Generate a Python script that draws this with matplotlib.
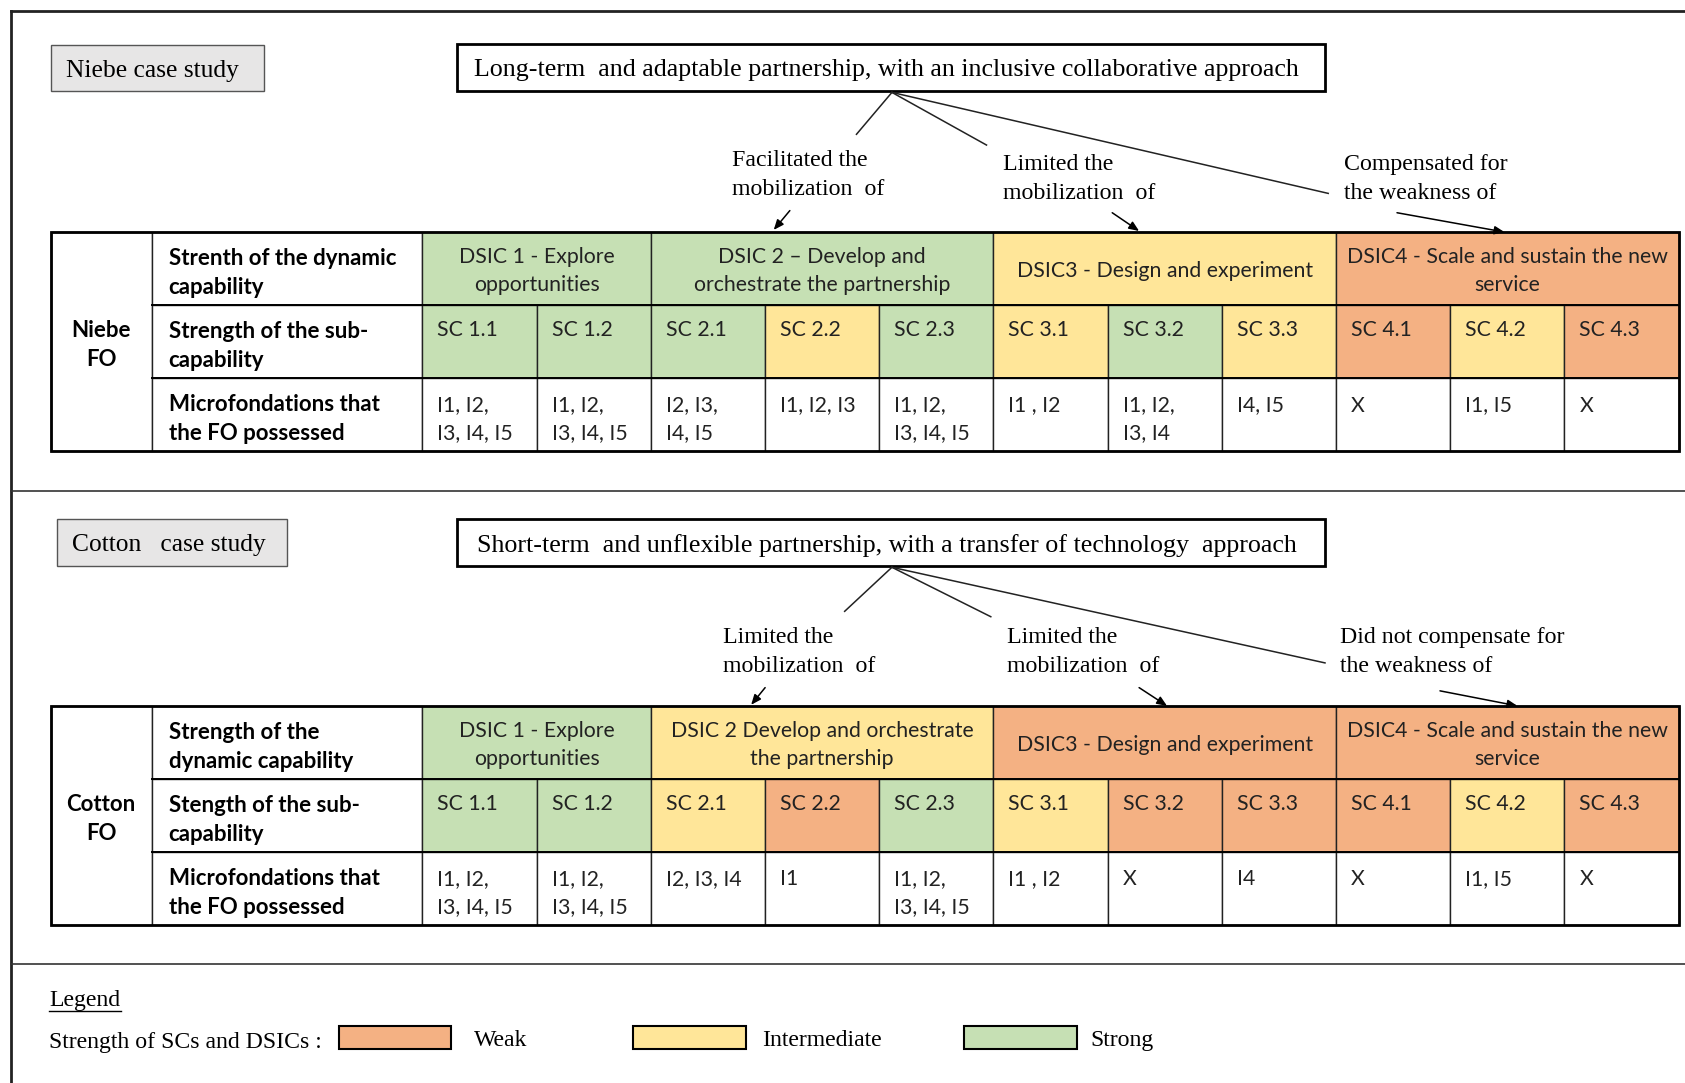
import matplotlib.pyplot as plt
from matplotlib.patches import Rectangle

# -------------------------
# data
level_color = {'weak': '#f4b183', 'inter': '#ffe699', 'strong': '#c6e0b4'}

sc_names = ['SC 1.1', 'SC 1.2', 'SC 2.1', 'SC 2.2', 'SC 2.3', 'SC 3.1',
            'SC 3.2', 'SC 3.3', 'SC 4.1', 'SC 4.2', 'SC 4.3']
dsic_span = [2, 3, 3, 3]

niebe_case = 'Niebe case study'
niebe_title = 'Long-term  and adaptable partnership, with an inclusive collaborative approach'
niebe_fo = 'Niebe\nFO'
niebe_rows = ['Strenth of the dynamic\ncapability',
              'Strength of the sub-\ncapability',
              'Microfondations that\nthe FO possessed']
niebe_dsic = ['DSIC 1 - Explore\nopportunities',
              'DSIC 2 \u2013 Develop and\norchestrate the partnership',
              'DSIC3 - Design and experiment',
              'DSIC4 - Scale and sustain the new\nservice']
niebe_dsic_level = ['strong', 'strong', 'inter', 'weak']
niebe_sc_level = ['strong', 'strong', 'strong', 'inter', 'strong', 'inter',
                  'strong', 'inter', 'weak', 'inter', 'weak']
niebe_micro = ['I1, I2,\nI3, I4, I5', 'I1, I2,\nI3, I4, I5', 'I2, I3,\nI4, I5',
               'I1, I2, I3', 'I1, I2,\nI3, I4, I5', 'I1 , I2', 'I1, I2,\nI3, I4',
               'I4, I5', 'X', 'I1, I5', 'X']
niebe_effects = ['Facilitated the\nmobilization  of',
                 'Limited the\nmobilization  of',
                 'Compensated for\nthe weakness of']

cotton_case = 'Cotton   case study'
cotton_title = 'Short-term  and unflexible partnership, with a transfer of technology  approach'
cotton_fo = 'Cotton\nFO'
cotton_rows = ['Strength of the\ndynamic capability',
               'Stength of the sub-\ncapability',
               'Microfondations that\nthe FO possessed']
cotton_dsic = ['DSIC 1 - Explore\nopportunities',
               'DSIC 2 Develop and orchestrate\nthe partnership',
               'DSIC3 - Design and experiment',
               'DSIC4 - Scale and sustain the new\nservice']
cotton_dsic_level = ['strong', 'inter', 'weak', 'weak']
cotton_sc_level = ['strong', 'strong', 'inter', 'weak', 'strong', 'inter',
                   'weak', 'weak', 'weak', 'inter', 'weak']
cotton_micro = ['I1, I2,\nI3, I4, I5', 'I1, I2,\nI3, I4, I5', 'I2, I3, I4',
                'I1', 'I1, I2,\nI3, I4, I5', 'I1 , I2', 'X', 'I4', 'X', 'I1, I5', 'X']
cotton_effects = ['Limited the\nmobilization  of',
                  'Limited the\nmobilization  of',
                  'Did not compensate for\nthe weakness of']

legend_levels = ['weak', 'inter', 'strong']
legend_names = ['Weak', 'Intermediate', 'Strong']

# -------------------------
# canvas in reference layout units
W, H = 1568, 1008
fig = plt.figure(figsize=(16.85, 10.83), dpi=100)
ax = fig.add_axes([0, 0, 1, 1])
ax.set_xlim(0, W)
ax.set_ylim(H, 0)
ax.axis('off')
renderer = fig.canvas.get_renderer()
px = 1685 / W  # pixels per layout unit
DY = 2.5       # va='center' sits a bit high, push text down

SERIF = 'Liberation Serif'
SANS = 'Lato'


def fit_size(text, width, **kw):
    # font size that makes text about `width` layout units wide
    t = ax.text(0, 0, text, fontsize=10, **kw)
    w = t.get_window_extent(renderer).width
    t.remove()
    return 10 * width * px / w


fs_title = fit_size(niebe_title, 770, family=SERIF)
fs_eff = fit_size('Compensated for', 152, family=SERIF)
fs_case = fit_size(niebe_case, 161, family=SERIF)
fs_leg = fit_size('Strength of SCs and DSICs :', 254, family=SERIF)
fs_cell = fit_size('DSIC3 - Design and experiment', 274, family=SANS)
fs_bold = fit_size('Strenth of the dynamic', 212, family=SANS, weight='bold')


def lines(x, y, text, dy, **kw):
    for i, s in enumerate(text.split('\n')):
        ax.text(x, y + i * dy + DY, s, va='center', **kw)


# table grid
x_fo, x_lab, x_sc, x_end = 47, 141, 393, 1562
sc_w = (x_end - x_sc) / len(sc_names)
row_h = 68


def draw_table(top, fo, rows, dsic, dsic_lvl, sc_lvl, micro):
    # merged FO cell and row labels
    ax.add_patch(Rectangle((x_fo, top), x_lab - x_fo, 3 * row_h,
                           fc='white', ec='#222', lw=1))
    lines((x_fo + x_lab) / 2, top + 1.5 * row_h - 13, fo, 27, ha='center',
          family=SANS, weight='bold', fontsize=fs_bold)
    for r, lab in enumerate(rows):
        y = top + r * row_h
        ax.add_patch(Rectangle((x_lab, y), x_sc - x_lab, row_h,
                               fc='white', ec='#222', lw=1))
        lines(x_lab + 16, y + 22, lab, 27, family=SANS, weight='bold',
              fontsize=fs_bold)
    # DSIC row
    k = 0
    for span, lab, lvl in zip(dsic_span, dsic, dsic_lvl):
        x = x_sc + k * sc_w
        ax.add_patch(Rectangle((x, top), span * sc_w, row_h,
                               fc=level_color[lvl], ec='#222', lw=1))
        n = len(lab.split('\n'))
        lines(x + span * sc_w / 2, top + row_h / 2 - 13 * (n - 1), lab, 26,
              ha='center', family=SANS, fontsize=fs_cell, color='#222')
        k += span
    # SC row and microfoundations row
    for i, (name, lvl, mic) in enumerate(zip(sc_names, sc_lvl, micro)):
        x = x_sc + i * sc_w
        ax.add_patch(Rectangle((x, top + row_h), sc_w, row_h,
                               fc=level_color[lvl], ec='#222', lw=1))
        lines(x + 14, top + row_h + 21, name, 26, family=SANS,
              fontsize=fs_cell, color='#222')
        ax.add_patch(Rectangle((x, top + 2 * row_h), sc_w, row_h,
                               fc='white', ec='#222', lw=1))
        lines(x + 14, top + 2 * row_h + 23, mic, 26, family=SANS,
              fontsize=fs_cell, color='#222')
    # heavier outline
    ax.add_patch(Rectangle((x_fo, top), x_end - x_fo, 3 * row_h,
                           fc='none', ec='black', lw=2))
    for r in (1, 2):
        ax.plot([x_lab, x_end], [top + r * row_h] * 2, color='black', lw=1.4)


def draw_case(case, case_box, title, hub, spokes, effects, eff_xy, arrows):
    cx, cy, cw, ch = case_box
    ax.add_patch(Rectangle((cx, cy), cw, ch, fc='#e7e6e6', ec='#555', lw=1))
    lines(cx + 14, cy + ch / 2, case, 0, family=SERIF, fontsize=fs_case)
    tx, ty, tw, th = 425, cy - 1 if cy < 100 else cy, 808, 44
    ax.add_patch(Rectangle((tx, ty), tw, th, fc='white', ec='black', lw=2))
    lines(tx + tw / 2 - 4, ty + th / 2, title, 0, ha='center',
          family=SERIF, fontsize=fs_title)
    for (ex, ey) in spokes:
        ax.plot([hub[0], ex], [hub[1], ey], color='#222', lw=1.1)
    for lab, (ex, ey) in zip(effects, eff_xy):
        lines(ex, ey, lab, 27, family=SERIF, fontsize=fs_eff)
    for (x0, y0, x1, y1) in arrows:
        ax.annotate('', xy=(x1, y1), xytext=(x0, y0),
                    arrowprops=dict(arrowstyle='-|>,head_length=0.6,head_width=0.25',
                                    color='black', lw=1.1, shrinkA=0, shrinkB=0))


# -------------------------
# Niebe
draw_case(niebe_case, (47, 42, 199, 43), niebe_title, (830, 86),
          [(797, 125), (918, 135), (1236, 180)], niebe_effects,
          [(681, 147), (933, 151), (1251, 151)],
          [(735, 196, 720, 214), (1035, 198, 1060, 215), (1300, 198, 1400, 216)])
draw_table(216, niebe_fo, niebe_rows, niebe_dsic, niebe_dsic_level,
           niebe_sc_level, niebe_micro)

# Cotton
draw_case(cotton_case, (53, 483, 214, 44), cotton_title, (830, 528),
          [(786, 569), (922, 574), (1233, 617)], cotton_effects,
          [(673, 591), (937, 591), (1247, 591)],
          [(712, 640, 699, 656), (1060, 640, 1086, 657), (1340, 643, 1412, 657)])
draw_table(657, cotton_fo, cotton_rows, cotton_dsic, cotton_dsic_level,
           cotton_sc_level, cotton_micro)

# -------------------------
# frame and separators
ax.plot([10, 10], [10, H], color='#222', lw=2)
ax.plot([10, W], [10, 10], color='#222', lw=2)
for y in (457, 897):
    ax.plot([10, W], [y, y], color='#333', lw=1.2)

# legend
t = ax.text(46, 929 + DY, 'Legend', va='center', family=SERIF, fontsize=fs_leg)
bb = t.get_window_extent(renderer)
ax.plot([46, 46 + bb.width / px], [941, 941], color='black', lw=1)
lines(46, 968, 'Strength of SCs and DSICs :', 0, family=SERIF, fontsize=fs_leg)
for x, lvl, name in zip([315, 589, 897], legend_levels, legend_names):
    ax.add_patch(Rectangle((x, 955), 105, 21, fc=level_color[lvl],
                           ec='black', lw=1.5))
    lines(x + 126 - (x == 589) * 6 - (x == 897) * 8, 966, name, 0,
          family=SERIF, fontsize=fs_leg)

fig.savefig('out.png', dpi=100)
